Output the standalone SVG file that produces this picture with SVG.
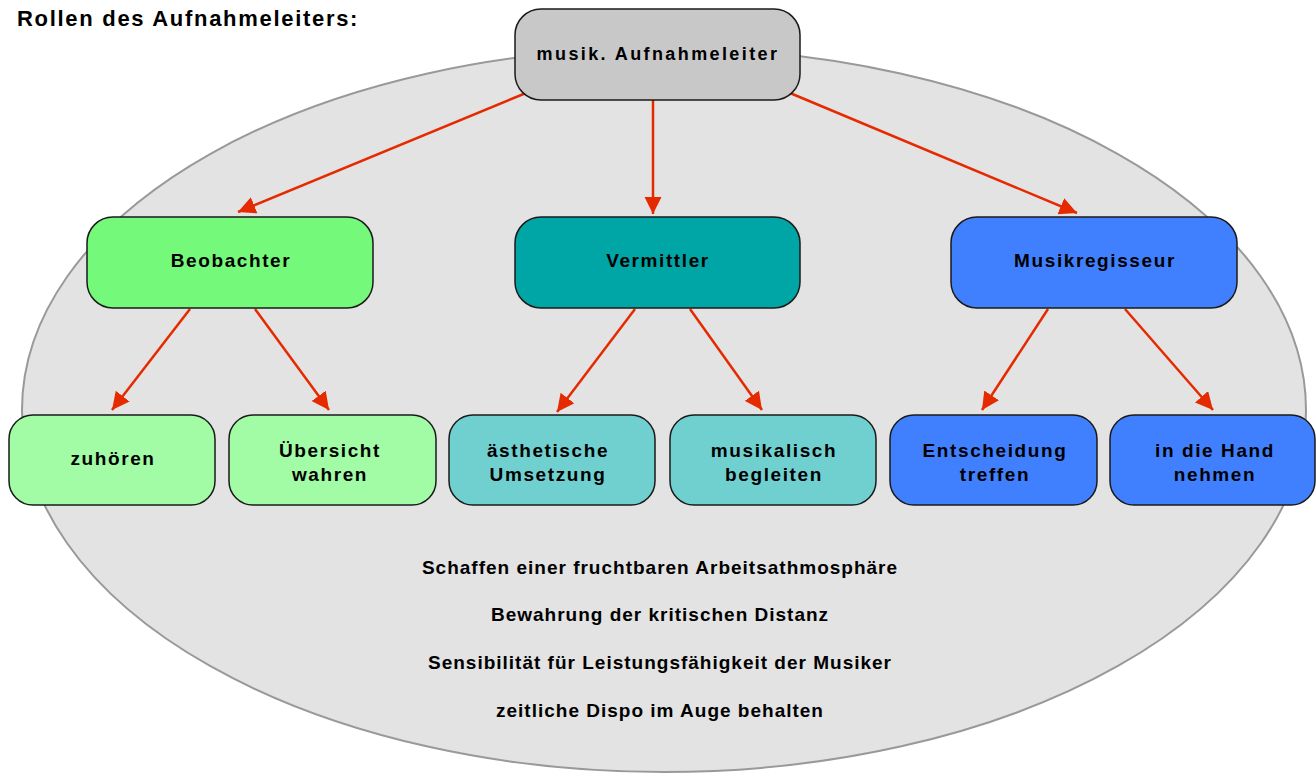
<svg xmlns="http://www.w3.org/2000/svg" width="1316" height="774" viewBox="0 0 1316 774">
<defs>
<marker id="ah" viewBox="0 0 10 10" refX="10" refY="5" markerWidth="7" markerHeight="7" markerUnits="strokeWidth" orient="auto">
<path d="M0,0 L10,5 L0,10 z" fill="#e62a00"/>
</marker>
<style>
text{font-family:"Liberation Sans",Arial,sans-serif;font-weight:bold;font-size:19px;letter-spacing:1.6px;fill:#000;text-anchor:middle}
.title{font-size:22px;letter-spacing:1.7px;text-anchor:start}
.root{font-size:18px;letter-spacing:2.4px}
.note{font-size:19px;letter-spacing:1px}
.box{stroke:#1a1a1a;stroke-width:1.5}
.c{fill:none;stroke:#e62a00;stroke-width:2.5;marker-end:url(#ah)}
</style>
</defs>
<rect width="1316" height="774" fill="#fff"/>
<ellipse cx="664" cy="410" rx="642" ry="362" fill="#e3e3e3" stroke="#999" stroke-width="2"/>
<text class="title" x="17" y="26">Rollen des Aufnahmeleiters:</text>
<g id="connectors">
<line class="c" x1="526" y1="93" x2="238" y2="212"/>
<line class="c" x1="653" y1="100" x2="653" y2="214"/>
<line class="c" x1="790" y1="93" x2="1077" y2="213"/>
<line class="c" x1="190" y1="309" x2="112" y2="410"/>
<line class="c" x1="255" y1="309" x2="329" y2="410"/>
<line class="c" x1="635" y1="309" x2="557" y2="412"/>
<line class="c" x1="690" y1="309" x2="762" y2="410"/>
<line class="c" x1="1048" y1="309" x2="982" y2="410"/>
<line class="c" x1="1125" y1="309" x2="1213" y2="410"/>
</g>
<g id="root"><rect class="box" x="515" y="9" width="285" height="91" rx="26" fill="#c8c8c8"/><text class="root" x="658" y="60">musik. Aufnahmeleiter</text></g>
<g id="beobachter"><rect class="box" x="87" y="217" width="286" height="91" rx="26" fill="#74f97a"/><text x="231" y="267">Beobachter</text></g>
<g id="vermittler"><rect class="box" x="515" y="217" width="285" height="91" rx="26" fill="#00a5a5"/><text x="658" y="267">Vermittler</text></g>
<g id="musikregisseur"><rect class="box" x="951" y="217" width="286" height="91" rx="26" fill="#4080ff"/><text x="1095" y="267">Musikregisseur</text></g>
<g id="zuhoeren"><rect class="box" x="9" y="415" width="206" height="90" rx="24" fill="#a2fca6"/><text x="113" y="465">zuhören</text></g>
<g id="uebersicht"><rect class="box" x="229" y="415" width="207" height="90" rx="24" fill="#a2fca6"/><text x="330" y="457">Übersicht</text><text x="330" y="481">wahren</text></g>
<g id="aesthetische"><rect class="box" x="449" y="415" width="206" height="90" rx="24" fill="#70d0d0"/><text x="548" y="457">ästhetische</text><text x="548" y="481">Umsetzung</text></g>
<g id="musikalisch"><rect class="box" x="670" y="415" width="206" height="90" rx="24" fill="#70d0d0"/><text x="774" y="457">musikalisch</text><text x="774" y="481">begleiten</text></g>
<g id="entscheidung"><rect class="box" x="890" y="415" width="207" height="90" rx="24" fill="#4080ff"/><text x="995" y="457">Entscheidung</text><text x="995" y="481">treffen</text></g>
<g id="hand"><rect class="box" x="1110" y="415" width="205" height="90" rx="24" fill="#4080ff"/><text x="1215" y="457">in die Hand</text><text x="1215" y="481">nehmen</text></g>
<g id="notes">
<text class="note" x="660" y="574">Schaffen einer fruchtbaren Arbeitsathmosphäre</text>
<text class="note" x="660" y="621">Bewahrung der kritischen Distanz</text>
<text class="note" x="660" y="669">Sensibilität für Leistungsfähigkeit der Musiker</text>
<text class="note" x="660" y="717">zeitliche Dispo im Auge behalten</text>
</g>
</svg>
